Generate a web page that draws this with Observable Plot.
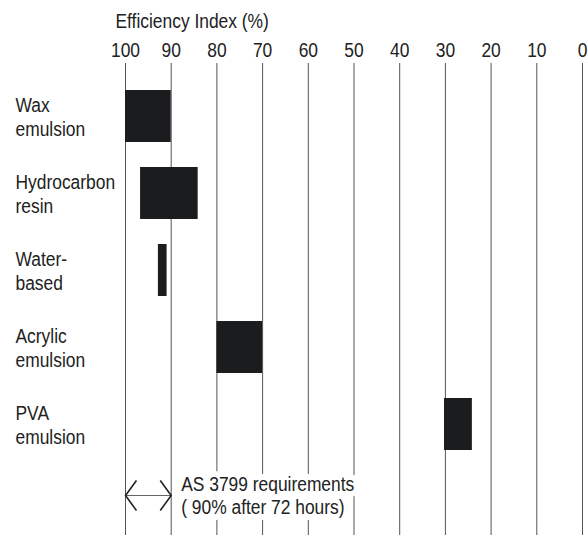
<!DOCTYPE html>
<html>
<head>
<meta charset="utf-8">
<script src="https://cdn.jsdelivr.net/npm/d3@7"></script>
<script src="https://cdn.jsdelivr.net/npm/@observablehq/plot@0.6"></script>
<style>
  html, body { margin: 0; padding: 0; background: #fff; }
</style>
</head>
<body>
<div id="chart"></div>
<script>
// ---- data ----
const categories = ["Wax\nemulsion", "Hydrocarbon\nresin", "Water-\nbased", "Acrylic\nemulsion", "PVA\nemulsion"];
const highValues = [100, 96.7, 92.8, 80, 30.2];
const lowValues  = [90, 84.1, 90.9, 70, 24.1];
const xTicks = [100, 90, 80, 70, 60, 50, 40, 30, 20, 10, 0];
const axisTitle = "Efficiency Index (%)";
const noteRow = "note";
const noteFrom = [100];
const noteTo = [90];
const noteText = ["AS 3799 requirements\n( 90% after 72 hours)"];

const bars = categories.map((c, i) => ({cat: c, hi: highValues[i], lo: lowValues[i]}));
const note = [{row: noteRow, from: noteFrom[0], to: noteTo[0], text: noteText[0]}];
const chevrons = [{row: noteRow, x: noteFrom[0], rot: 0}, {row: noteRow, x: noteTo[0], rot: 180}];

const chevron = {
  draw(ctx, size) {
    const r = Math.sqrt(size / Math.PI);
    const d = r * 0.73;
    ctx.moveTo(d, -r);
    ctx.lineTo(0, 0);
    ctx.lineTo(d, r);
  }
};

const font = "'Liberation Sans', Arial, sans-serif";
const ink = "#222";

const chart = Plot.plot({
  width: 588,
  height: 535,
  marginTop: 63,
  marginLeft: 125,
  marginRight: 6,
  marginBottom: 0,
  style: {fontFamily: font, fontSize: "20px", color: ink, background: "#fff", overflow: "visible"},
  x: {domain: [100, 0], axis: null},
  y: {domain: [...categories, noteRow], range: [88, 528.6], paddingInner: 0.33, paddingOuter: 0, axis: null},
  marks: [
    Plot.ruleX(xTicks, {x: d => d, stroke: "#555", strokeWidth: 1}),
    Plot.barX(bars, {x1: "hi", x2: "lo", y: "cat", fill: "#1b1c1e"}),
    Plot.text(categories, {y: d => d, text: d => d, frameAnchor: "left", textAnchor: "start", dx: -110, lineAnchor: "middle", lineHeight: 1.2, fill: ink}),
    Plot.text(xTicks, {x: d => d, text: d => String(d), frameAnchor: "top", dy: -13, lineAnchor: "middle", fill: ink}),
    Plot.text([axisTitle], {text: d => d, frameAnchor: "top-left", textAnchor: "start", dx: -10, dy: -42, lineAnchor: "middle", fill: ink}),
    Plot.text(note, {x: "to", y: "row", text: "text", textAnchor: "start", dx: 10, dy: -6, lineAnchor: "middle", lineHeight: 1.15, fill: ink, stroke: "white", strokeWidth: 12, paintOrder: "stroke"}),
    Plot.ruleY(note, {y: "row", x1: "from", x2: "to", dy: -6, stroke: "#666", strokeWidth: 1}),
    Plot.dot(chevrons, {x: "x", y: "row", rotate: "rot", symbol: chevron, r: 15, dy: -6, fill: "none", stroke: "#222", strokeWidth: 1.6})
  ]
});
document.getElementById("chart").appendChild(chart);

// Condense the text horizontally (narrow sans look), scaling about each label's anchor point.
const condense = 0.87;
chart.querySelectorAll("text").forEach(el => {
  const t = el.getAttribute("transform");
  if (t) {
    el.setAttribute("transform", t + ` scale(${condense},1)`);
  } else {
    const x = +el.getAttribute("x") || 0, y = +el.getAttribute("y") || 0;
    el.removeAttribute("x"); el.removeAttribute("y");
    el.setAttribute("transform", `translate(${x},${y}) scale(${condense},1)`);
  }
});
</script>
</body>
</html>
